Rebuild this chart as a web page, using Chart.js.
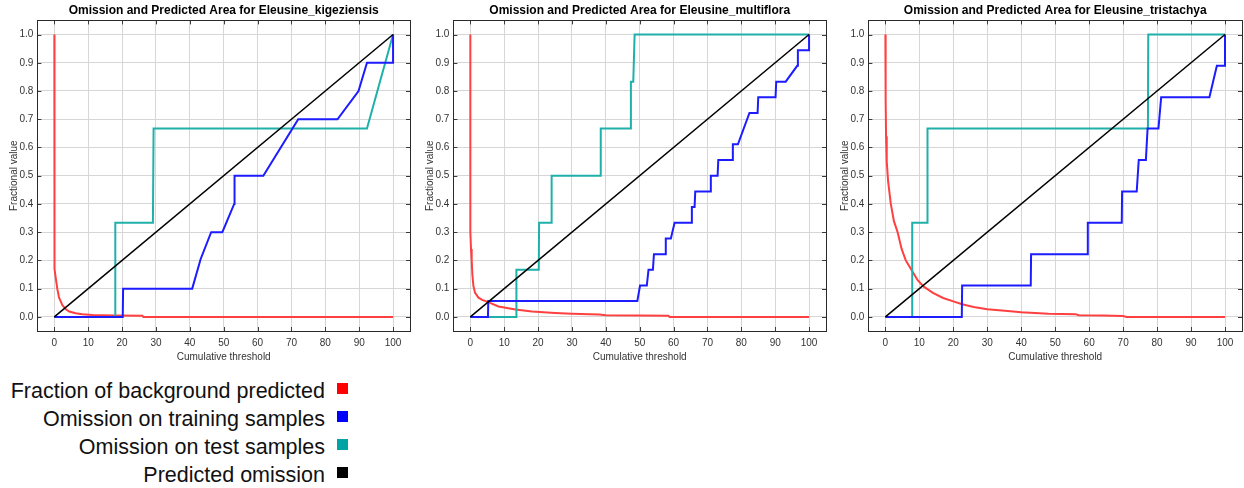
<!DOCTYPE html>
<html>
<head>
<meta charset="utf-8">
<script src="https://cdn.jsdelivr.net/npm/chart.js@4/dist/chart.umd.min.js"></script>
<style>
  html, body { margin: 0; padding: 0; background: #fff; width: 1244px; height: 488px; overflow: hidden;
    font-family: "Liberation Sans", Arial, sans-serif; }
  .panel { position: absolute; top: 0; }
  .legend-row { position: absolute; left: 0; height: 28px; line-height: 28px; font-size: 21.5px; color: #111; }
  .legend-row .txt { position: absolute; left: 0; width: 325px; text-align: right; white-space: nowrap; }
  .legend-row .box { position: absolute; left: 337px; top: 6px; width: 11px; height: 11px; }
</style>
</head>
<body>
<canvas id="c1" class="panel" width="415" height="362" style="left:0px"></canvas>
<canvas id="c2" class="panel" width="415" height="362" style="left:416px"></canvas>
<canvas id="c3" class="panel" width="413" height="362" style="left:831px"></canvas>
<div id="legend"></div>

<script>
// Axis ticks
const xTicks = [0, 10, 20, 30, 40, 50, 60, 70, 80, 90, 100];
const yTicks = [0, 0.1, 0.2, 0.3, 0.4, 0.5, 0.6, 0.7, 0.8, 0.9, 1.0];

// Series names and colours
const seriesNames = ['Fraction of background predicted', 'Omission on training samples',
                     'Omission on test samples', 'Predicted omission'];
const lineColors = ['rgb(255,64,64)', 'rgb(28,28,255)', 'rgb(32,176,170)', 'rgb(0,0,0)'];
const legendColors = ['#ff0000', '#0000ff', '#00a4a4', '#000000'];

// Predicted omission is the diagonal (threshold, fraction)
const predictedOmission = [[0, 0], [100, 1]];

// Eleusine kigeziensis: [cumulative threshold, fractional value]
const kigBackground = [[0, 1], [0, 0.2], [0.1, 0.17], [0.4, 0.139], [0.9, 0.098], [1.4, 0.068], [2.4, 0.041],
  [3.4, 0.027], [4.4, 0.019], [6.3, 0.013], [8.3, 0.009], [11.3, 0.007], [14.3, 0.006], [18, 0.005],
  [26, 0.004], [26.3, 0], [100, 0]];
const kigTraining = [[0, 0], [20.2, 0], [20.3, 0.1], [40.7, 0.1], [43.2, 0.205], [46.3, 0.3], [49.6, 0.3],
  [53.1, 0.4], [53.2, 0.5], [61.7, 0.5], [72, 0.7], [83.6, 0.7], [89.8, 0.8], [92.3, 0.9], [100, 0.9], [100, 1]];
const kigTest = [[0, 0], [18, 0], [18, 0.333], [29.1, 0.333], [29.3, 0.667], [92.3, 0.667], [100, 1]];

// Eleusine multiflora
const multiBackground = [[0, 1], [0, 0.3], [0.2, 0.24], [0.4, 0.2], [0.6, 0.15], [0.9, 0.11], [1.4, 0.085],
  [2.4, 0.068], [3.5, 0.06], [5.1, 0.053], [8.3, 0.037], [13.3, 0.026], [18.2, 0.019], [25, 0.014],
  [30, 0.011], [38, 0.008], [40, 0.006], [50, 0.005], [58.5, 0.004], [58.8, 0], [100, 0]];
const multiTraining = [[0, 0], [5.2, 0], [5.3, 0.056], [49.3, 0.056], [50.1, 0.111], [52.1, 0.111],
  [52.6, 0.167], [53.9, 0.167], [54.2, 0.222], [57.5, 0.222], [57.7, 0.278], [59.2, 0.278], [60.3, 0.333],
  [65.3, 0.333], [65.4, 0.389], [66.2, 0.389], [66.4, 0.444], [70.8, 0.444], [71, 0.5], [73, 0.5],
  [73.2, 0.556], [77.3, 0.556], [77.5, 0.611], [79, 0.611], [82.4, 0.722], [84.8, 0.722], [85, 0.778],
  [90.1, 0.778], [90.3, 0.833], [93.1, 0.833], [96.5, 0.889], [96.7, 0.944], [100, 0.944], [100, 1]];
const multiTest = [[0, 0], [13.5, 0], [13.6, 0.167], [20.2, 0.167], [20.3, 0.333], [23.9, 0.333],
  [24, 0.5], [38.4, 0.5], [38.5, 0.667], [47.3, 0.667], [47.4, 0.833], [48.1, 0.833], [48.5, 1], [100, 1]];

// Eleusine tristachya
const triBackground = [[0, 1], [0, 0.78], [0.15, 0.77], [0.2, 0.64], [0.4, 0.55], [0.8, 0.48], [1.6, 0.4],
  [2.5, 0.34], [3.6, 0.3], [4.8, 0.24], [6, 0.2], [7.7, 0.166], [9.5, 0.13], [11.3, 0.107], [14, 0.085],
  [17, 0.067], [20, 0.055], [22.6, 0.045], [26, 0.035], [30, 0.027], [36, 0.021], [40, 0.016], [48, 0.011],
  [56, 0.009], [57, 0.006], [64, 0.005], [70, 0.003], [71, 0], [100, 0]];
const triTraining = [[0, 0], [22.5, 0], [22.6, 0.111], [42.8, 0.111], [42.9, 0.222], [59.5, 0.222],
  [59.6, 0.333], [69.6, 0.333], [69.7, 0.444], [74, 0.444], [74.6, 0.556], [76.7, 0.556], [77.2, 0.667],
  [80.4, 0.667], [81.2, 0.778], [95.4, 0.778], [97.6, 0.889], [100, 0.889], [100, 1]];
const triTest = [[0, 0], [7.9, 0], [7.9, 0.333], [12.3, 0.333], [12.4, 0.667], [77.3, 0.667], [77.4, 1], [100, 1]];

const FONT = '"Liberation Sans", Arial, sans-serif';
const toPoints = arr => arr.map(p => ({ x: p[0], y: p[1] }));

// Box round the plot area with short inward tick marks on all four sides
const frameBox = {
  id: 'frameBox',
  afterDatasetsDraw(chart) {
    const { ctx, chartArea: a, scales } = chart;
    ctx.save();
    ctx.strokeStyle = '#3a3a3a';
    ctx.lineWidth = 1;
    ctx.beginPath();
    scales.x.ticks.forEach(t => {
      const px = Math.round(scales.x.getPixelForValue(t.value)) + 0.5;
      ctx.moveTo(px, a.bottom); ctx.lineTo(px, a.bottom - 4);
      ctx.moveTo(px, a.top); ctx.lineTo(px, a.top + 4);
    });
    scales.y.ticks.forEach(t => {
      const py = Math.round(scales.y.getPixelForValue(t.value)) + 0.5;
      ctx.moveTo(a.left, py); ctx.lineTo(a.left + 4, py);
      ctx.moveTo(a.right, py); ctx.lineTo(a.right - 4, py);
    });
    ctx.stroke();
    ctx.strokeStyle = '#2a2a2a';
    ctx.strokeRect(Math.round(a.left) + 0.5, Math.round(a.top) + 0.5,
                   Math.round(a.right - a.left), Math.round(a.bottom - a.top));
    ctx.restore();
  }
};

function panel(id, title, background, training, test, padRight) {
  const series = [background, training, test, predictedOmission];
  const widths = [2, 2, 2, 1.5];
  // first dataset is drawn on top: predicted, training, test, background
  const stack = [3, 1, 2, 0];
  const datasets = stack.map(i => ({
    label: seriesNames[i],
    data: toPoints(series[i]),
    borderColor: lineColors[i],
    backgroundColor: lineColors[i],
    borderWidth: widths[i],
    showLine: true,
    pointRadius: 0,
    tension: 0,
    fill: false
  }));
  return new Chart(document.getElementById(id), {
    type: 'scatter',
    data: { datasets },
    options: {
      responsive: false,
      animation: false,
      events: [],
      layout: { padding: { left: 4, right: padRight, top: 0, bottom: 1 } },
      plugins: {
        legend: { display: false },
        tooltip: { enabled: false },
        title: {
          display: true, text: title, fullSize: false, color: '#000',
          font: { family: FONT, size: 12, weight: 'bold' },
          padding: { top: 3, bottom: 3 }
        }
      },
      scales: {
        x: {
          type: 'linear', min: -5, max: 105,
          afterBuildTicks: axis => { axis.ticks = xTicks.map(v => ({ value: v })); },
          grid: { color: '#d6d6d6', drawTicks: false },
          border: { display: false },
          ticks: { padding: 6, color: '#333', font: { family: FONT, size: 10 }, maxRotation: 0,
                   callback: v => String(v) },
          title: { display: true, text: 'Cumulative threshold', color: '#333',
                   font: { family: FONT, size: 10 }, padding: { top: -4, bottom: -2 } }
        },
        y: {
          type: 'linear', min: -0.05, max: 1.05,
          afterBuildTicks: axis => { axis.ticks = yTicks.map(v => ({ value: v })); },
          grid: { color: '#d6d6d6', drawTicks: false },
          border: { display: false },
          ticks: { padding: 4, color: '#333', font: { family: FONT, size: 10 },
                   callback: v => Number(v).toFixed(1) },
          title: { display: true, text: 'Fractional value', color: '#333',
                   font: { family: FONT, size: 10 }, padding: { top: 4.5, bottom: -5 } }
        }
      }
    },
    plugins: [frameBox]
  });
}

panel('c1', 'Omission and Predicted Area for Eleusine_kigeziensis', kigBackground, kigTraining, kigTest, 5);
panel('c2', 'Omission and Predicted Area for Eleusine_multiflora', multiBackground, multiTraining, multiTest, 5);
panel('c3', 'Omission and Predicted Area for Eleusine_tristachya', triBackground, triTraining, triTest, 2);

// Legend below the panels: label first, colour square after it
const legend = document.getElementById('legend');
seriesNames.forEach((name, i) => {
  const row = document.createElement('div');
  row.className = 'legend-row';
  row.style.top = (377 + i * 28) + 'px';
  const txt = document.createElement('span');
  txt.className = 'txt';
  txt.textContent = name;
  const box = document.createElement('span');
  box.className = 'box';
  box.style.background = legendColors[i];
  row.appendChild(txt);
  row.appendChild(box);
  legend.appendChild(row);
});
</script>
</body>
</html>
